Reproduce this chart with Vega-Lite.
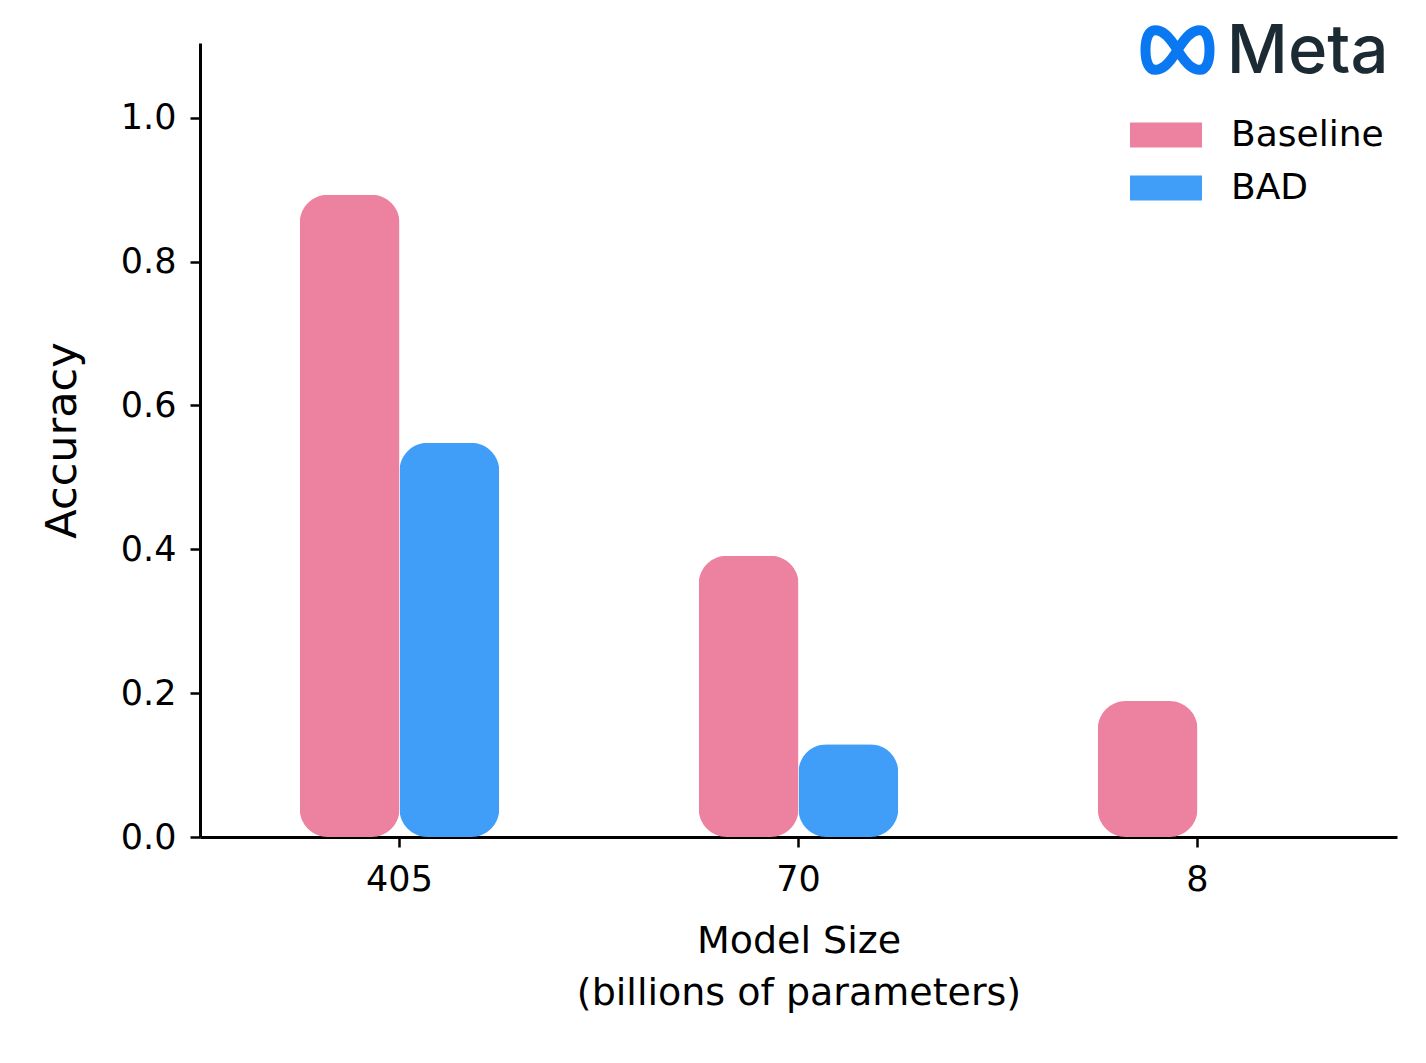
{
  "$schema": "https://vega.github.io/schema/vega-lite/v6.json",
  "width": 1197,
  "height": 794,
  "autosize": {"type": "none"},
  "padding": {"left": 200, "top": 43, "right": 29, "bottom": 226},
  "background": "white",
  "config": {
    "view": {"stroke": null},
    "font": "DejaVu Sans",
    "axis": {
      "grid": false,
      "domainColor": "black",
      "domainWidth": 3,
      "tickColor": "black",
      "tickWidth": 2.5,
      "tickSize": 10,
      "labelColor": "black",
      "labelFont": "DejaVu Sans",
      "labelFontSize": 35,
      "titleFont": "DejaVu Sans",
      "titleColor": "black",
      "titleFontWeight": "normal",
      "titleFontSize": 38
    }
  },
  "datasets": {
    "bars": [
      {"size": "405", "method": "Baseline", "accuracy": 0.893},
      {"size": "405", "method": "BAD", "accuracy": 0.548},
      {"size": "70", "method": "Baseline", "accuracy": 0.391},
      {"size": "70", "method": "BAD", "accuracy": 0.129},
      {"size": "8", "method": "Baseline", "accuracy": 0.189},
      {"size": "8", "method": "BAD", "accuracy": 0.0}
    ],
    "logo": [
      {"size": "8", "accuracy": 1.104, "word": "Meta"}
    ]
  },
  "layer": [
    {
      "data": {"name": "bars"},
      "mark": {"type": "bar", "cornerRadius": 28},
      "encoding": {
        "x": {
          "field": "size",
          "type": "nominal",
          "sort": ["405", "70", "8"],
          "scale": {"paddingInner": 0, "paddingOuter": 0},
          "axis": {
            "title": ["Model Size", "(billions of parameters)"],
            "labelAngle": 0,
            "labelPadding": 15,
            "titlePadding": 25,
            "titleLineHeight": 52
          }
        },
        "xOffset": {
          "field": "method",
          "type": "nominal",
          "sort": ["Baseline", "BAD"],
          "scale": {"paddingInner": 0, "paddingOuter": 1}
        },
        "y": {
          "field": "accuracy",
          "type": "quantitative",
          "scale": {"domain": [0, 1.104], "nice": false},
          "axis": {
            "title": "Accuracy",
            "values": [0, 0.2, 0.4, 0.6, 0.8, 1.0],
            "format": ".1f",
            "labelPadding": 14,
            "titlePadding": 36,
            "titleFontSize": 43
          }
        },
        "color": {
          "field": "method",
          "type": "nominal",
          "sort": ["Baseline", "BAD"],
          "scale": {"domain": ["Baseline", "BAD"], "range": ["#EC82A0", "#409EF9"]},
          "legend": {
            "title": null,
            "orient": "none",
            "legendX": 940,
            "legendY": 66,
            "symbolType": "M-1.385,-0.48L1.385,-0.48L1.385,0.48L-1.385,0.48Z",
            "symbolSize": 2704,
            "symbolStrokeWidth": 0,
            "symbolOpacity": 1,
            "labelFontSize": 36,
            "labelFont": "DejaVu Sans",
            "labelColor": "black",
            "labelOffset": 39,
            "rowPadding": 9
          }
        }
      }
    },
    {
      "data": {"name": "logo"},
      "mark": {"type": "text", "align": "right", "baseline": "alphabetic", "dx": 191, "dy": 30, "font": "Inter", "fontSize": 67, "fontWeight": 500, "color": "#1C2B33"},
      "encoding": {
        "x": {"field": "size", "type": "nominal"},
        "y": {"field": "accuracy", "type": "quantitative"},
        "text": {"field": "word"}
      }
    },
    {
      "data": {"name": "logo"},
      "mark": {
        "type": "point",
        "filled": false,
        "shape": "M0,0C0.3,-0.5 0.5,-0.62 0.7,-0.62C0.88,-0.62 1,-0.4 1,0C1,0.4 0.88,0.62 0.7,0.62C0.5,0.62 0.3,0.5 0,0C-0.3,-0.5 -0.5,-0.62 -0.7,-0.62C-0.88,-0.62 -1,-0.4 -1,0C-1,0.4 -0.88,0.62 -0.7,0.62C-0.5,0.62 -0.3,0.5 0,0Z",
        "size": 4096,
        "strokeWidth": 10,
        "opacity": 1,
        "color": "#0A78F0",
        "xOffset": -20,
        "yOffset": 7
      },
      "encoding": {
        "x": {"field": "size", "type": "nominal"},
        "y": {"field": "accuracy", "type": "quantitative"}
      }
    }
  ]
}
